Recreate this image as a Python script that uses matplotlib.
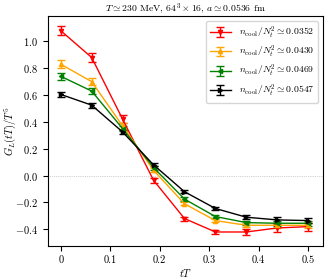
import matplotlib
matplotlib.use('Agg')
import matplotlib.pyplot as plt

plt.rcParams['font.family'] = 'serif'
plt.rcParams['font.serif'] = ['cmr10']
plt.rcParams['mathtext.fontset'] = 'cm'
plt.rcParams['axes.formatter.use_mathtext'] = True
plt.rcParams['font.size'] = 7.5

# --- data ---
tT = [0, 0.0625, 0.125, 0.1875, 0.25, 0.3125, 0.375, 0.4375, 0.5]

g_0352 = [1.08, 0.88, 0.42, -0.035, -0.32, -0.42, -0.42, -0.39, -0.38]
e_0352 = [0.035, 0.03, 0.03, 0.02, 0.015, 0.015, 0.025, 0.03, 0.03]
g_0430 = [0.83, 0.70, 0.37, 0.04, -0.21, -0.335, -0.37, -0.37, -0.37]
e_0430 = [0.03, 0.025, 0.02, 0.015, 0.012, 0.012, 0.015, 0.02, 0.02]
g_0469 = [0.74, 0.63, 0.35, 0.06, -0.175, -0.305, -0.35, -0.355, -0.355]
e_0469 = [0.025, 0.02, 0.02, 0.015, 0.012, 0.012, 0.015, 0.02, 0.02]
g_0547 = [0.605, 0.525, 0.325, 0.08, -0.12, -0.245, -0.31, -0.33, -0.335]
e_0547 = [0.02, 0.018, 0.015, 0.012, 0.01, 0.01, 0.015, 0.02, 0.02]

labels = [r'$n_{\rm cool}/N_t^2 \simeq 0.0352$',
          r'$n_{\rm cool}/N_t^2 \simeq 0.0430$',
          r'$n_{\rm cool}/N_t^2 \simeq 0.0469$',
          r'$n_{\rm cool}/N_t^2 \simeq 0.0547$']
colors = ['red', 'orange', 'green', 'black']
markers = ['v', '^', '<', '>']

fig = plt.figure(figsize=(3.28, 2.79), dpi=100)
ax = fig.add_axes([0.146, 0.118, 0.839, 0.825])

ax.axhline(0, color='gray', lw=0.5, ls=':', alpha=0.7)
series = [(g_0352, e_0352), (g_0430, e_0430), (g_0469, e_0469), (g_0547, e_0547)]
for (g, e), c, m, lab in zip(series, colors, markers, labels):
    ax.errorbar(tT, g, yerr=e, color=c, marker=m, ms=3, lw=1, capsize=3,
                elinewidth=1, label=lab)

ax.set_xlim(-0.026, 0.53)
ax.set_ylim(-0.525, 1.19)
ax.set_xticks([0, 0.1, 0.2, 0.3, 0.4, 0.5])
ax.set_xticklabels(['0', '0.1', '0.2', '0.3', '0.4', '0.5'])
ax.set_yticks([-0.4, -0.2, 0.0, 0.2, 0.4, 0.6, 0.8, 1.0])
ax.set_xlabel(r'$tT$', labelpad=1)
ax.set_ylabel(r'$G_L(tT)/T^5$')
ax.yaxis.set_label_coords(-0.11, 0.5)
ax.set_title(r'$T \simeq 230$ MeV, $64^3 \times 16$, $a \simeq 0.0536$ fm', fontsize=7, pad=3)
ax.legend(loc='upper right', fontsize=7, handlelength=2.2, borderpad=0.4, labelspacing=0.35)

fig.savefig('out.png', dpi=100)
